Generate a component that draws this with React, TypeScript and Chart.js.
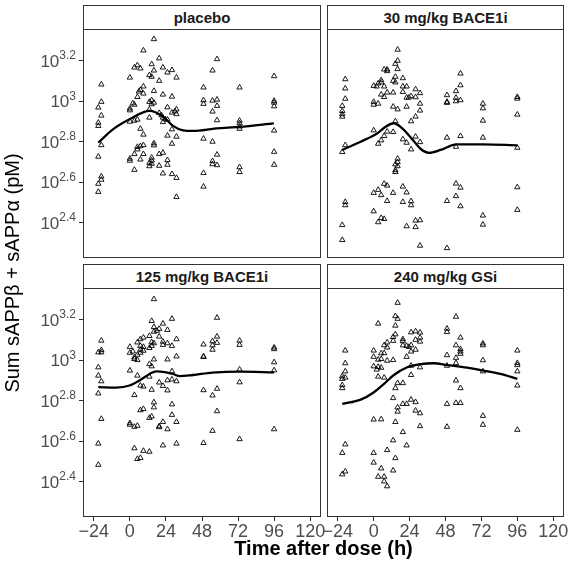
import React, { useEffect, useRef } from 'react';
import { Chart, registerables } from 'chart.js';

Chart.register(...registerables);

const FONT = "'Liberation Sans', Arial, Helvetica, sans-serif";

// ---- axis definitions ----
const xTickValues = [-24, 0, 24, 48, 72, 96, 120];
const yTickExponents = [2.4, 2.6, 2.8, 3.0, 3.2];
const xRange = [-31.2, 127.2];
const yExpRange = [2.225, 3.357];

const panelTitles = ['placebo', '30 mg/kg BACE1i', '125 mg/kg BACE1i', '240 mg/kg GSi'];

// ---- observations: [time after dose (h), log10(sum sAPP, pM)] ----
const placeboPoints: number[][] = [
  [-19, 3.083], [-19, 2.997], [-21, 2.969], [-19, 2.929], [-21, 2.894], [-21, 2.878], [-19, 2.783], [-21, 2.726],
  [-19, 2.628], [-19, 2.612], [-21, 2.592], [-21, 2.552],
  [16, 3.307], [9, 3.251], [19.5, 3.212], [14.5, 3.183], [3, 3.167], [5, 3.178], [7, 3.162], [22, 3.167],
  [16, 3.152], [25, 3.142], [28, 3.154], [0, 3.117], [13, 3.129], [14.5, 3.121], [31, 3.117], [19.5, 3.101],
  [9, 3.073], [7, 3.056], [6, 3.048], [9, 3.038], [5, 3.021], [16, 3.051], [22, 3.033], [28, 3.023],
  [2, 2.99], [3, 2.983], [13, 2.997], [14.5, 3.005], [16, 2.993], [14.5, 2.985], [0, 2.964], [0, 2.955],
  [25, 2.97], [31, 2.96], [30, 2.95], [31, 2.936], [13, 2.959], [19.5, 2.942], [21, 2.931], [28, 2.944],
  [5, 2.909], [3, 2.904], [0, 2.899], [13, 2.919], [22, 2.919], [23.5, 2.911], [22, 2.897], [25, 2.909],
  [7, 2.864], [28, 2.861], [9, 2.835], [25, 2.83], [31, 2.825], [16, 2.792], [16, 2.782], [28, 2.79],
  [9, 2.783], [7, 2.778], [5, 2.774], [5, 2.762], [3, 2.739], [9, 2.739], [19.5, 2.739], [22, 2.745],
  [0, 2.716], [0, 2.706], [7, 2.712], [14.5, 2.721], [14.5, 2.707], [13, 2.696], [13, 2.679], [14.5, 2.691],
  [25, 2.709], [25, 2.686], [19.5, 2.681], [3, 2.661], [22, 2.643], [28, 2.64], [31, 2.621], [31, 2.527],
  [58, 3.208], [55, 3.152], [49, 3.068], [49, 3.005], [49, 2.987], [55, 3.003], [58, 3.008], [58, 2.977],
  [55, 2.949], [58, 2.906], [49, 2.815], [55, 2.8], [58, 2.736], [55, 2.704], [55, 2.689], [58, 2.684],
  [49, 2.645], [49, 2.578],
  [73, 3.068], [73, 2.904], [73, 2.891], [73, 2.876], [73, 2.864], [73, 2.674], [73, 2.65],
  [96, 3.124], [96, 3.002], [96, 2.993], [96, 2.975], [96, 2.855], [96, 2.75], [96, 2.686],
];

const bace30Points: number[][] = [
  [-19, 3.109], [-19, 3.063], [-19, 3.012], [-21, 2.977], [-21, 2.952], [-21, 2.936], [-21, 2.924], [-19, 2.783],
  [-21, 2.749], [-19, 2.502], [-19, 2.486], [-21, 2.388], [-21, 2.314],
  [16, 3.255], [16, 3.2], [14.5, 3.185], [16, 3.159], [7, 3.157], [9, 3.157], [9, 3.149], [14.5, 3.121],
  [13, 3.101], [14.5, 3.093], [5, 3.104], [5, 3.093], [3, 3.088], [0, 3.076], [2, 3.073], [7, 3.073],
  [19.5, 3.114], [19.5, 3.073], [22, 3.073], [19.5, 3.046], [9, 3.043], [5, 3.033], [7, 3.021], [13, 3.043],
  [28, 3.059], [31, 3.04], [28, 3.02], [25, 3.025], [23.5, 3.018], [22, 3.018], [0, 2.997], [0, 2.983],
  [3, 2.988], [13, 2.973], [16, 2.96], [22, 2.973], [31, 2.988], [31, 2.954], [28, 2.924], [25, 2.901],
  [14.5, 2.901], [0, 2.856], [9, 2.85], [7, 2.828], [5, 2.807], [3, 2.79], [13, 2.848], [19.5, 2.812],
  [22, 2.795], [25, 2.762], [28, 2.825], [31, 2.798], [16, 2.716], [16, 2.699], [14.5, 2.688], [16, 2.679],
  [14.5, 2.659], [14.5, 2.65], [7, 2.592], [9, 2.583], [3, 2.562], [0, 2.547], [5, 2.536], [13, 2.547],
  [9, 2.507], [19.5, 2.578], [22, 2.549], [19.5, 2.502], [25, 2.506], [25, 2.486], [0, 2.456], [5, 2.423],
  [7, 2.418], [3, 2.402], [28, 2.41], [31, 2.412], [28, 2.378], [22, 2.382], [31, 2.286],
  [58, 3.137], [58, 3.079], [55, 3.05], [49, 3.03], [49, 2.997], [49, 2.992], [55, 3.017], [55, 3.0],
  [58, 3.005], [49, 2.82], [58, 2.828], [55, 2.775], [55, 2.593], [58, 2.573], [55, 2.531], [49, 2.507],
  [58, 2.481], [49, 2.274],
  [73, 2.988], [73, 2.965], [73, 2.904], [73, 2.82], [73, 2.435], [73, 2.39],
  [96, 3.021], [96, 3.013], [96, 2.934], [96, 2.77], [96, 2.575], [96, 2.463],
];

const bace125Points: number[][] = [
  [-19, 3.097], [-19, 3.05], [-21, 3.039], [-19, 3.039], [-21, 2.965], [-21, 2.924], [-19, 2.896], [-21, 2.836],
  [-19, 2.71], [-21, 2.588], [-21, 2.483],
  [16, 3.302], [28, 3.205], [14.5, 3.194], [22, 3.181], [16, 3.164], [19.5, 3.155], [18, 3.146], [16, 3.141],
  [25, 3.15], [13, 3.12], [19.5, 3.117], [9, 3.112], [7, 3.104], [5, 3.088], [31, 3.104], [14.5, 3.089],
  [16, 3.084], [13, 3.061], [14.5, 3.071], [22, 3.092], [25, 3.084], [22, 3.076], [28, 3.071], [0, 3.066],
  [7, 3.071], [9, 3.066], [7, 3.052], [2, 3.043], [0, 3.037], [9, 3.047], [7, 3.037], [5, 3.027],
  [3, 3.014], [3, 3.006], [5, 3.001], [16, 3.004], [25, 3.004], [31, 3.019], [13, 2.981], [14.5, 2.97],
  [0, 2.949], [5, 2.924], [13, 2.919], [28, 2.945], [19.5, 2.89], [22, 2.873], [25, 2.901], [28, 2.905],
  [31, 2.896], [25, 2.851], [7, 2.875], [9, 2.87], [14.5, 2.854], [3, 2.828], [16, 2.792], [16, 2.767],
  [28, 2.782], [9, 2.759], [7, 2.753], [14.5, 2.722], [13, 2.715], [28, 2.73], [22, 2.695], [31, 2.695],
  [0, 2.689], [0, 2.681], [3, 2.671], [5, 2.676], [19.5, 2.674], [19.5, 2.669], [25, 2.659], [22, 2.579],
  [31, 2.588], [3, 2.565], [9, 2.552], [13, 2.548], [5, 2.512], [7, 2.517],
  [58, 3.21], [58, 3.117], [55, 3.094], [58, 3.086], [49, 3.078], [55, 3.074], [55, 3.052], [49, 3.019],
  [49, 3.016], [58, 2.859], [49, 2.852], [55, 2.826], [58, 2.748], [55, 2.651], [49, 2.591],
  [73, 3.097], [73, 3.076], [73, 2.954], [73, 2.891], [73, 2.61],
  [96, 3.063], [96, 3.055], [96, 2.99], [96, 2.95], [96, 2.659],
];

const gsi240Points: number[][] = [
  [-19, 3.048], [-19, 2.985], [-19, 2.945], [-21, 2.921], [-19, 2.914], [-21, 2.908], [-21, 2.877], [-21, 2.862],
  [-19, 2.584], [-21, 2.542], [-19, 2.45], [-21, 2.436],
  [16, 3.284], [14.5, 3.218], [16, 3.205], [14.5, 3.171], [3, 3.181], [14.5, 3.128], [13, 3.115], [13, 3.096],
  [19.5, 3.104], [19.5, 3.094], [22, 3.071], [23.5, 3.066], [19.5, 3.074], [25, 3.138], [28, 3.143], [31, 3.137],
  [31, 3.112], [28, 3.101], [31, 3.092], [25, 3.074], [28, 3.052], [25, 3.043], [9, 3.088], [7, 3.074],
  [9, 3.063], [0, 3.048], [5, 3.034], [7, 3.035], [0, 3.017], [3, 3.003], [5, 3.006], [9, 2.998],
  [13, 3.001], [22, 3.017], [0, 2.97], [3, 2.967], [2, 2.954], [5, 2.963], [3, 2.919], [7, 2.914],
  [25, 2.973], [31, 2.965], [25, 2.927], [16, 2.887], [19.5, 2.887], [14.5, 2.862], [13, 2.813], [19.5, 2.784],
  [22, 2.784], [25, 2.805], [28, 2.793], [16, 2.767], [16, 2.746], [28, 2.751], [31, 2.738], [0, 2.707],
  [5, 2.708], [14.5, 2.695], [31, 2.674], [19.5, 2.645], [13, 2.604], [22, 2.579], [9, 2.556], [0, 2.542],
  [14.5, 2.516], [0, 2.494], [5, 2.465], [13, 2.455], [3, 2.424], [7, 2.424], [7, 2.401], [9, 2.377],
  [55, 3.215], [49, 3.156], [49, 3.14], [58, 3.112], [55, 3.074], [58, 3.055], [58, 3.043], [58, 3.032],
  [49, 3.025], [55, 3.012], [55, 2.986], [49, 2.973], [55, 2.9], [58, 2.862], [49, 2.784], [55, 2.789],
  [58, 2.789], [49, 2.671],
  [73, 3.083], [73, 3.074], [73, 3.0], [73, 2.945], [73, 2.725], [73, 2.681],
  [96, 3.048], [96, 2.986], [96, 2.976], [96, 2.945], [96, 2.875], [96, 2.656],
];

// ---- smoothed trend ----
const placeboCurveTime = [-21, -11.3, -0.2, 13.1, 22, 28.7, 35.3, 42, 57.6, 72.9, 95.8];
const placeboCurveLog = [2.795, 2.861, 2.911, 2.952, 2.924, 2.878, 2.856, 2.853, 2.866, 2.873, 2.891];

const bace30CurveTime = [-21, -8.7, 2.4, 8, 13.5, 19.1, 25.8, 31.3, 36.9, 44.7, 55.3, 73.3, 96];
const bace30CurveLog = [2.759, 2.8, 2.841, 2.874, 2.891, 2.866, 2.812, 2.765, 2.745, 2.759, 2.787, 2.787, 2.782];

const bace125CurveTime = [-21, -9.1, -0.2, 6.4, 13.1, 17.6, 24.2, 28.7, 33.1, 42, 54.9, 73, 96];
const bace125CurveLog = [2.867, 2.865, 2.875, 2.9, 2.932, 2.945, 2.94, 2.932, 2.921, 2.927, 2.939, 2.944, 2.94];

const gsi240CurveTime = [-21, -8.7, 0.2, 6.9, 13.5, 22.4, 31.3, 40.2, 49.3, 62.4, 73.3, 84.7, 96];
const gsi240CurveLog = [2.784, 2.805, 2.842, 2.883, 2.927, 2.965, 2.981, 2.985, 2.976, 2.963, 2.949, 2.932, 2.908];

// ---- layout (page pixels) ----
const W = 569;
const H = 563;
const LEFT_AREA = { left: 83, right: 321 };
const RIGHT_AREA = { left: 327, right: 564 };
const TOP_AREA = { top: 29, bottom: 258 };
const BOTTOM_AREA = { top: 288, bottom: 517 };
const Y_AXIS_W = 83;
const X_AXIS_H = 30;

const boxPlugin = {
  id: 'panelBox',
  afterDatasetsDraw(chart: any) {
    const { ctx, chartArea: a } = chart;
    ctx.save();
    ctx.strokeStyle = '#333333';
    ctx.lineWidth = 1;
    ctx.strokeRect(Math.round(a.left) + 0.5, Math.round(a.top) + 0.5, Math.round(a.right - a.left) - 1, Math.round(a.bottom - a.top) - 1);
    ctx.restore();
  },
};

const yExpLabelPlugin = {
  id: 'yExpLabels',
  afterDraw(chart: any) {
    const s = chart.scales.y;
    if (!s || !s.options.display) return;
    const ctx = chart.ctx;
    ctx.save();
    ctx.fillStyle = '#4d4d4d';
    ctx.textBaseline = 'alphabetic';
    ctx.textAlign = 'left';
    const xr = 76;
    s.ticks.forEach((t: any) => {
      const y = s.getPixelForValue(t.value);
      const e = Math.log10(t.value);
      const expText = Math.abs(e - Math.round(e)) < 1e-6 ? String(Math.round(e)) : e.toFixed(1);
      ctx.font = `12px ${FONT}`;
      const ew = ctx.measureText(expText).width;
      ctx.font = `17px ${FONT}`;
      const bw = ctx.measureText('10').width;
      ctx.fillText('10', xr - ew - bw, y + 6);
      ctx.font = `12px ${FONT}`;
      ctx.fillText(expText, xr - ew, y - 1.5);
    });
    ctx.restore();
  },
};

function fmtX(v: number) {
  return v < 0 ? '\u2212' + String(-v) : String(v);
}

interface PanelProps {
  points: number[][];
  curveTime: number[];
  curveLog: number[];
  area: { left: number; right: number; top: number; bottom: number };
  showX: boolean;
  showY: boolean;
}

function Panel({ points, curveTime, curveLog, area, showX, showY }: PanelProps) {
  const ref = useRef<HTMLCanvasElement>(null);
  useEffect(() => {
    const padding = {
      left: area.left - (showY ? Y_AXIS_W : 0),
      right: W - area.right,
      top: area.top,
      bottom: H - area.bottom - (showX ? X_AXIS_H : 0),
    };
    const tickGrid = {
      display: true,
      drawOnChartArea: false,
      drawTicks: true,
      tickLength: 4,
      color: '#333333',
      lineWidth: 1,
    };
    const chart = new Chart(ref.current as HTMLCanvasElement, {
      type: 'scatter',
      data: {
        datasets: [
          {
            data: curveTime.map((t, i) => ({ x: t, y: Math.pow(10, curveLog[i]) })),
            showLine: true,
            borderColor: '#000000',
            borderWidth: 2.3,
            pointRadius: 0,
            cubicInterpolationMode: 'monotone',
            fill: false,
          } as any,
          {
            data: points.map(([t, v]) => ({ x: t, y: Math.pow(10, v) })),
            pointStyle: 'triangle',
            pointRadius: 3.1,
            borderColor: '#000000',
            borderWidth: 0.9,
            backgroundColor: 'rgba(0,0,0,0)',
          } as any,
        ],
      },
      options: {
        animation: false,
        responsive: false,
        devicePixelRatio: 1,
        layout: { padding },
        plugins: { legend: { display: false }, tooltip: { enabled: false }, title: { display: false } },
        scales: {
          x: {
            type: 'linear',
            min: xRange[0],
            max: xRange[1],
            display: showX,
            afterBuildTicks: (ax: any) => {
              ax.ticks = xTickValues.map((v) => ({ value: v }));
            },
            afterFit: (s: any) => {
              s.height = showX ? X_AXIS_H : 0;
              s.paddingLeft = 0;
              s.paddingRight = 0;
            },
            grid: tickGrid,
            border: { display: false },
            ticks: {
              autoSkip: false,
              maxRotation: 0,
              minRotation: 0,
              padding: 0,
              color: '#4d4d4d',
              font: { family: FONT, size: 18 },
              callback: (v: any) => fmtX(Number(v)),
            },
          } as any,
          y: {
            type: 'logarithmic',
            min: Math.pow(10, yExpRange[0]),
            max: Math.pow(10, yExpRange[1]),
            bounds: 'data',
            display: showY,
            afterBuildTicks: (ax: any) => {
              ax.ticks = yTickExponents.map((e) => ({ value: Math.pow(10, e) }));
            },
            afterFit: (s: any) => {
              s.width = showY ? Y_AXIS_W : 0;
              s.paddingTop = 0;
              s.paddingBottom = 0;
            },
            grid: tickGrid,
            border: { display: false },
            ticks: { autoSkip: false, callback: () => '', font: { family: FONT, size: 12 } },
          } as any,
        },
      } as any,
      plugins: [boxPlugin, yExpLabelPlugin],
    });
    return () => chart.destroy();
  }, []);
  return (
    <canvas
      ref={ref}
      width={W}
      height={H}
      style={{ position: 'absolute', left: 0, top: 0, width: W, height: H }}
    />
  );
}

function Strip({ text, left, right, top }: { text: string; left: number; right: number; top: number }) {
  return (
    <div
      style={{
        position: 'absolute',
        left,
        top: top - 24,
        width: right - left,
        height: 25,
        boxSizing: 'border-box',
        border: '1px solid #333333',
        background: '#ffffff',
        color: '#1a1a1a',
        font: `bold 15px ${FONT}`,
        lineHeight: '23px',
        textAlign: 'center',
      }}
    >
      {text}
    </div>
  );
}

export default function App() {
  const tl = { ...LEFT_AREA, ...TOP_AREA };
  const tr = { ...RIGHT_AREA, ...TOP_AREA };
  const bl = { ...LEFT_AREA, ...BOTTOM_AREA };
  const br = { ...RIGHT_AREA, ...BOTTOM_AREA };
  return (
    <div style={{ position: 'absolute', left: 0, top: 0, width: W, height: H, background: '#ffffff', overflow: 'hidden' }}>
      <Panel points={placeboPoints} curveTime={placeboCurveTime} curveLog={placeboCurveLog} area={tl} showX={false} showY={true} />
      <Panel points={bace30Points} curveTime={bace30CurveTime} curveLog={bace30CurveLog} area={tr} showX={false} showY={false} />
      <Panel points={bace125Points} curveTime={bace125CurveTime} curveLog={bace125CurveLog} area={bl} showX={true} showY={true} />
      <Panel points={gsi240Points} curveTime={gsi240CurveTime} curveLog={gsi240CurveLog} area={br} showX={true} showY={false} />
      <Strip text={panelTitles[0]} left={tl.left} right={tl.right} top={tl.top} />
      <Strip text={panelTitles[1]} left={tr.left} right={tr.right} top={tr.top} />
      <Strip text={panelTitles[2]} left={bl.left} right={bl.right} top={bl.top} />
      <Strip text={panelTitles[3]} left={br.left} right={br.right} top={br.top} />
      <div
        style={{
          position: 'absolute',
          left: 83,
          width: 481,
          top: 538,
          textAlign: 'center',
          font: `bold 20px ${FONT}`,
          lineHeight: '20px',
          color: '#000000',
          whiteSpace: 'nowrap',
        }}
      >
        Time after dose (h)
      </div>
      <div
        style={{
          position: 'absolute',
          left: 12 - 150,
          top: 272.5 - 10,
          width: 300,
          height: 20,
          textAlign: 'center',
          font: `20px ${FONT}`,
          lineHeight: '20px',
          color: '#000000',
          whiteSpace: 'nowrap',
          transform: 'rotate(-90deg)',
          transformOrigin: '50% 50%',
        }}
      >
        Sum sAPPβ + sAPPα (pM)
      </div>
    </div>
  );
}
